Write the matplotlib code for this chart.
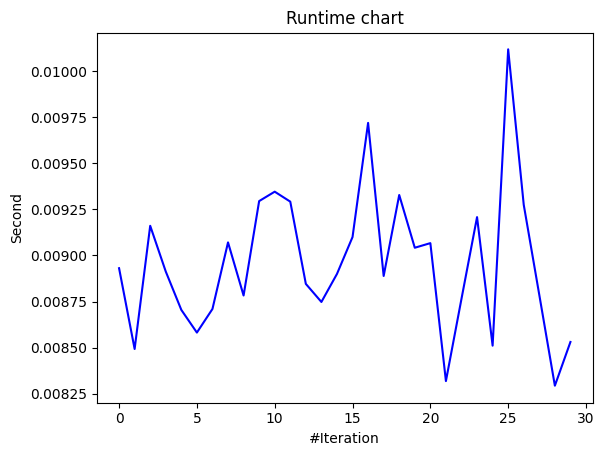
import matplotlib
matplotlib.use('Agg')
import matplotlib.pyplot as plt

iterations = list(range(30))
runtime = [0.008931, 0.008493, 0.009161, 0.008913, 0.008705, 0.008582, 0.008710,
           0.009071, 0.008783, 0.009295, 0.009346, 0.009292, 0.008846, 0.008748,
           0.008900, 0.009100, 0.009719, 0.008889, 0.009328, 0.009042, 0.009067,
           0.008319, 0.008765, 0.009208, 0.008511, 0.010118, 0.009275, 0.008786,
           0.008294, 0.008531]

fig = plt.figure(figsize=(6.04, 4.55), dpi=100)
ax = fig.add_subplot(1, 1, 1)
ax.plot(iterations, runtime, 'b')
ax.set_title('Runtime chart')
ax.set_xlabel('#Iteration')
ax.set_ylabel('Second')
# same margins as the original plot
fig.subplots_adjust(left=96.5 / 604, right=593 / 604, top=1 - 32.5 / 455, bottom=1 - 402.5 / 455)
fig.savefig('out.png')
